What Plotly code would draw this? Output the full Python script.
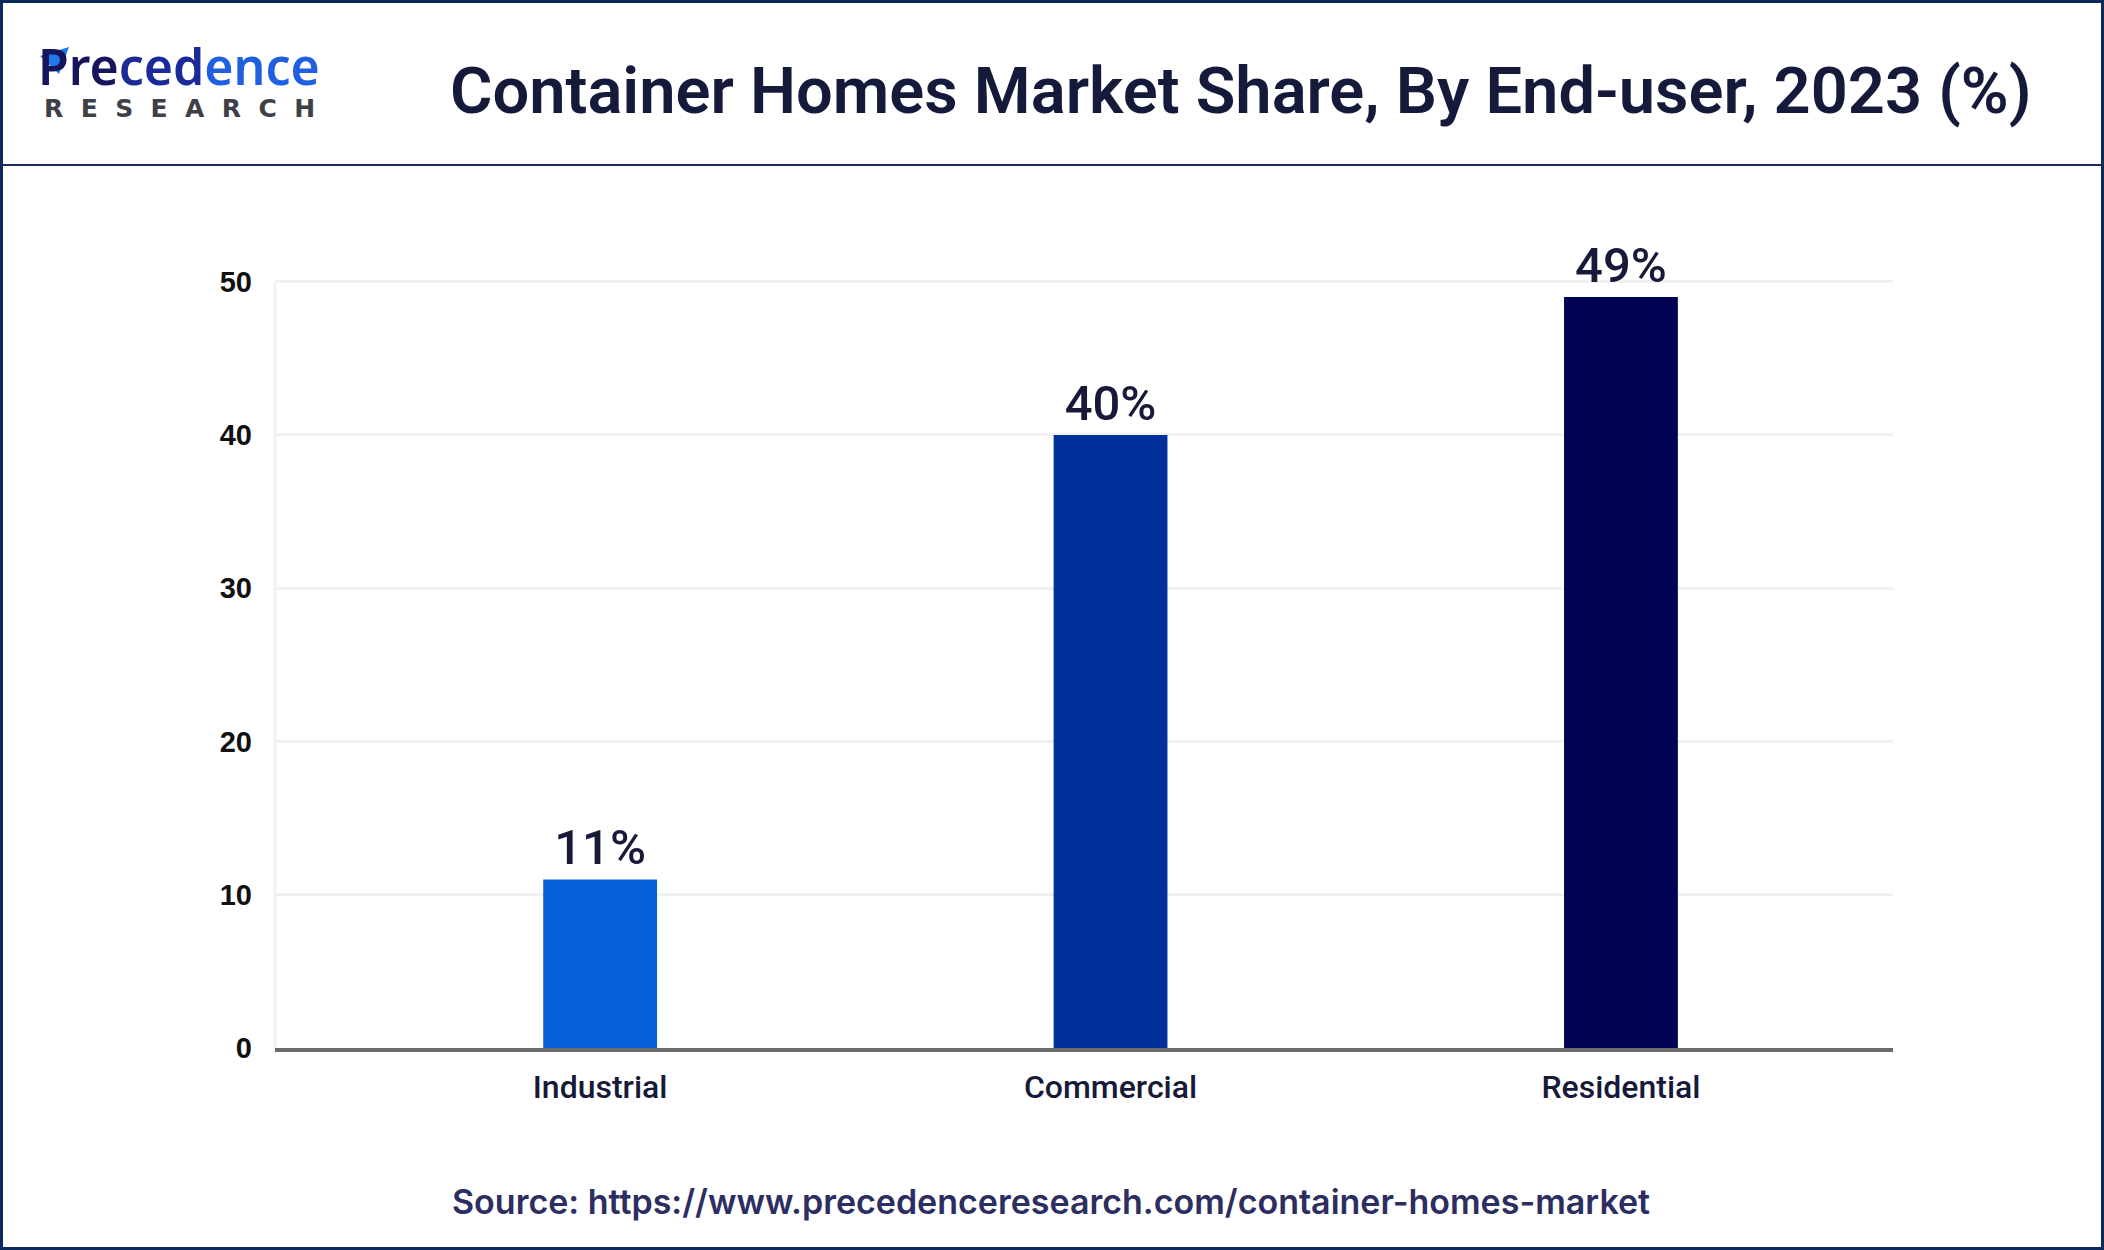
import plotly.graph_objects as go

categories = ["Industrial", "Commercial", "Residential"]
shares = [11, 40, 49]
bar_labels = ["11%", "40%", "49%"]
bar_colors = ["#0661d8", "#00309a", "#020255"]
y_ticks = [0, 10, 20, 30, 40, 50]

W, H = 2104, 1250
L, R, T, B = 275, 211, 251, 202
PW, PH = W - L - R, H - T - B


def px(x):
    return (x - L) / PW


def py(y):
    return (H - B - y) / PH


fig = go.Figure()
fig.add_trace(go.Bar(
    x=categories, y=shares, marker=dict(color=bar_colors, line=dict(width=0)),
    width=0.223, text=bar_labels, textposition="outside", cliponaxis=False,
    textfont=dict(family="Roboto", size=49, color="#161a38", weight=500),
))

shapes = [
    dict(type="rect", xref="paper", yref="paper", x0=px(1.5), x1=px(W - 1.5), y0=py(1.5), y1=py(H - 1.5),
         line=dict(color="#0c2a5c", width=3), layer="above"),
    dict(type="line", xref="paper", yref="paper", x0=px(0), x1=px(W), y0=py(165), y1=py(165),
         line=dict(color="#1b2a5a", width=2)),
    dict(type="line", xref="paper", yref="y", x0=0, x1=0, y0=0, y1=max(y_ticks),
         line=dict(color="#f2f2f4", width=3), layer="below"),
    # logo arrow mark
    dict(type="path", xref="paper", yref="paper",
         path=f"M {px(40)} {py(56)} L {px(69)} {py(47)} L {px(59)} {py(74)} Z",
         fillcolor="#1e7ae8", line=dict(width=0), layer="above"),
]

annotations = [
    dict(text="Container Homes Market Share, By End-user, 2023 (%)", xref="paper", yref="paper",
         x=px(1241), y=py(91), xanchor="center", yanchor="middle", showarrow=False,
         font=dict(family="Roboto", size=65, color="#151a3a", weight=600)),
    dict(text="<span style='color:#17145e'>Pre</span><span style='color:#1b2a99'>ced</span>"
              "<span style='color:#1f5fe0'>ence</span>",
         xref="paper", yref="paper", x=px(36), y=py(66), xanchor="left", yanchor="middle",
         showarrow=False, font=dict(family="Noto Sans", size=50, weight=600)),
    dict(text="R\u00a0\u00a0E\u00a0\u00a0S\u00a0\u00a0E\u00a0\u00a0A\u00a0\u00a0R\u00a0\u00a0C\u00a0\u00a0H",
         xref="paper", yref="paper", x=px(42), y=py(108), xanchor="left", yanchor="middle",
         showarrow=False, font=dict(family="DejaVu Sans", size=25, color="#3f3f46", weight=700)),
    dict(text="Source: https://www.precedenceresearch.com/container-homes-market", xref="paper", yref="paper",
         x=px(1051), y=py(1201), xanchor="center", yanchor="middle", showarrow=False,
         font=dict(family="Inter", size=34, color="#2c2e62", weight=600)),
]

fig.update_layout(
    width=W, height=H, margin=dict(l=L, r=R, t=T, b=B, pad=0),
    paper_bgcolor="white", plot_bgcolor="white", showlegend=False,
    shapes=shapes, annotations=annotations,
    xaxis=dict(range=[-0.637, 2.533], showgrid=False, showline=True, linecolor="#6b6b6b", linewidth=4,
               ticks="", ticklabelstandoff=8,
               tickfont=dict(family="Roboto", size=32, color="#161a38", weight=500), zeroline=False),
    yaxis=dict(range=[0, 52], tickvals=y_ticks, showgrid=True, gridcolor="#f1f1f3", gridwidth=3,
               showline=False, ticks="", ticklabelstandoff=22,
               tickfont=dict(family="Liberation Sans", size=29, color="#111111", weight=700),
               zeroline=False),
)

fig.write_html("out.html", config={"displayModeBar": False},
               post_script="document.body.style.margin='0';document.body.style.overflow='hidden';")
